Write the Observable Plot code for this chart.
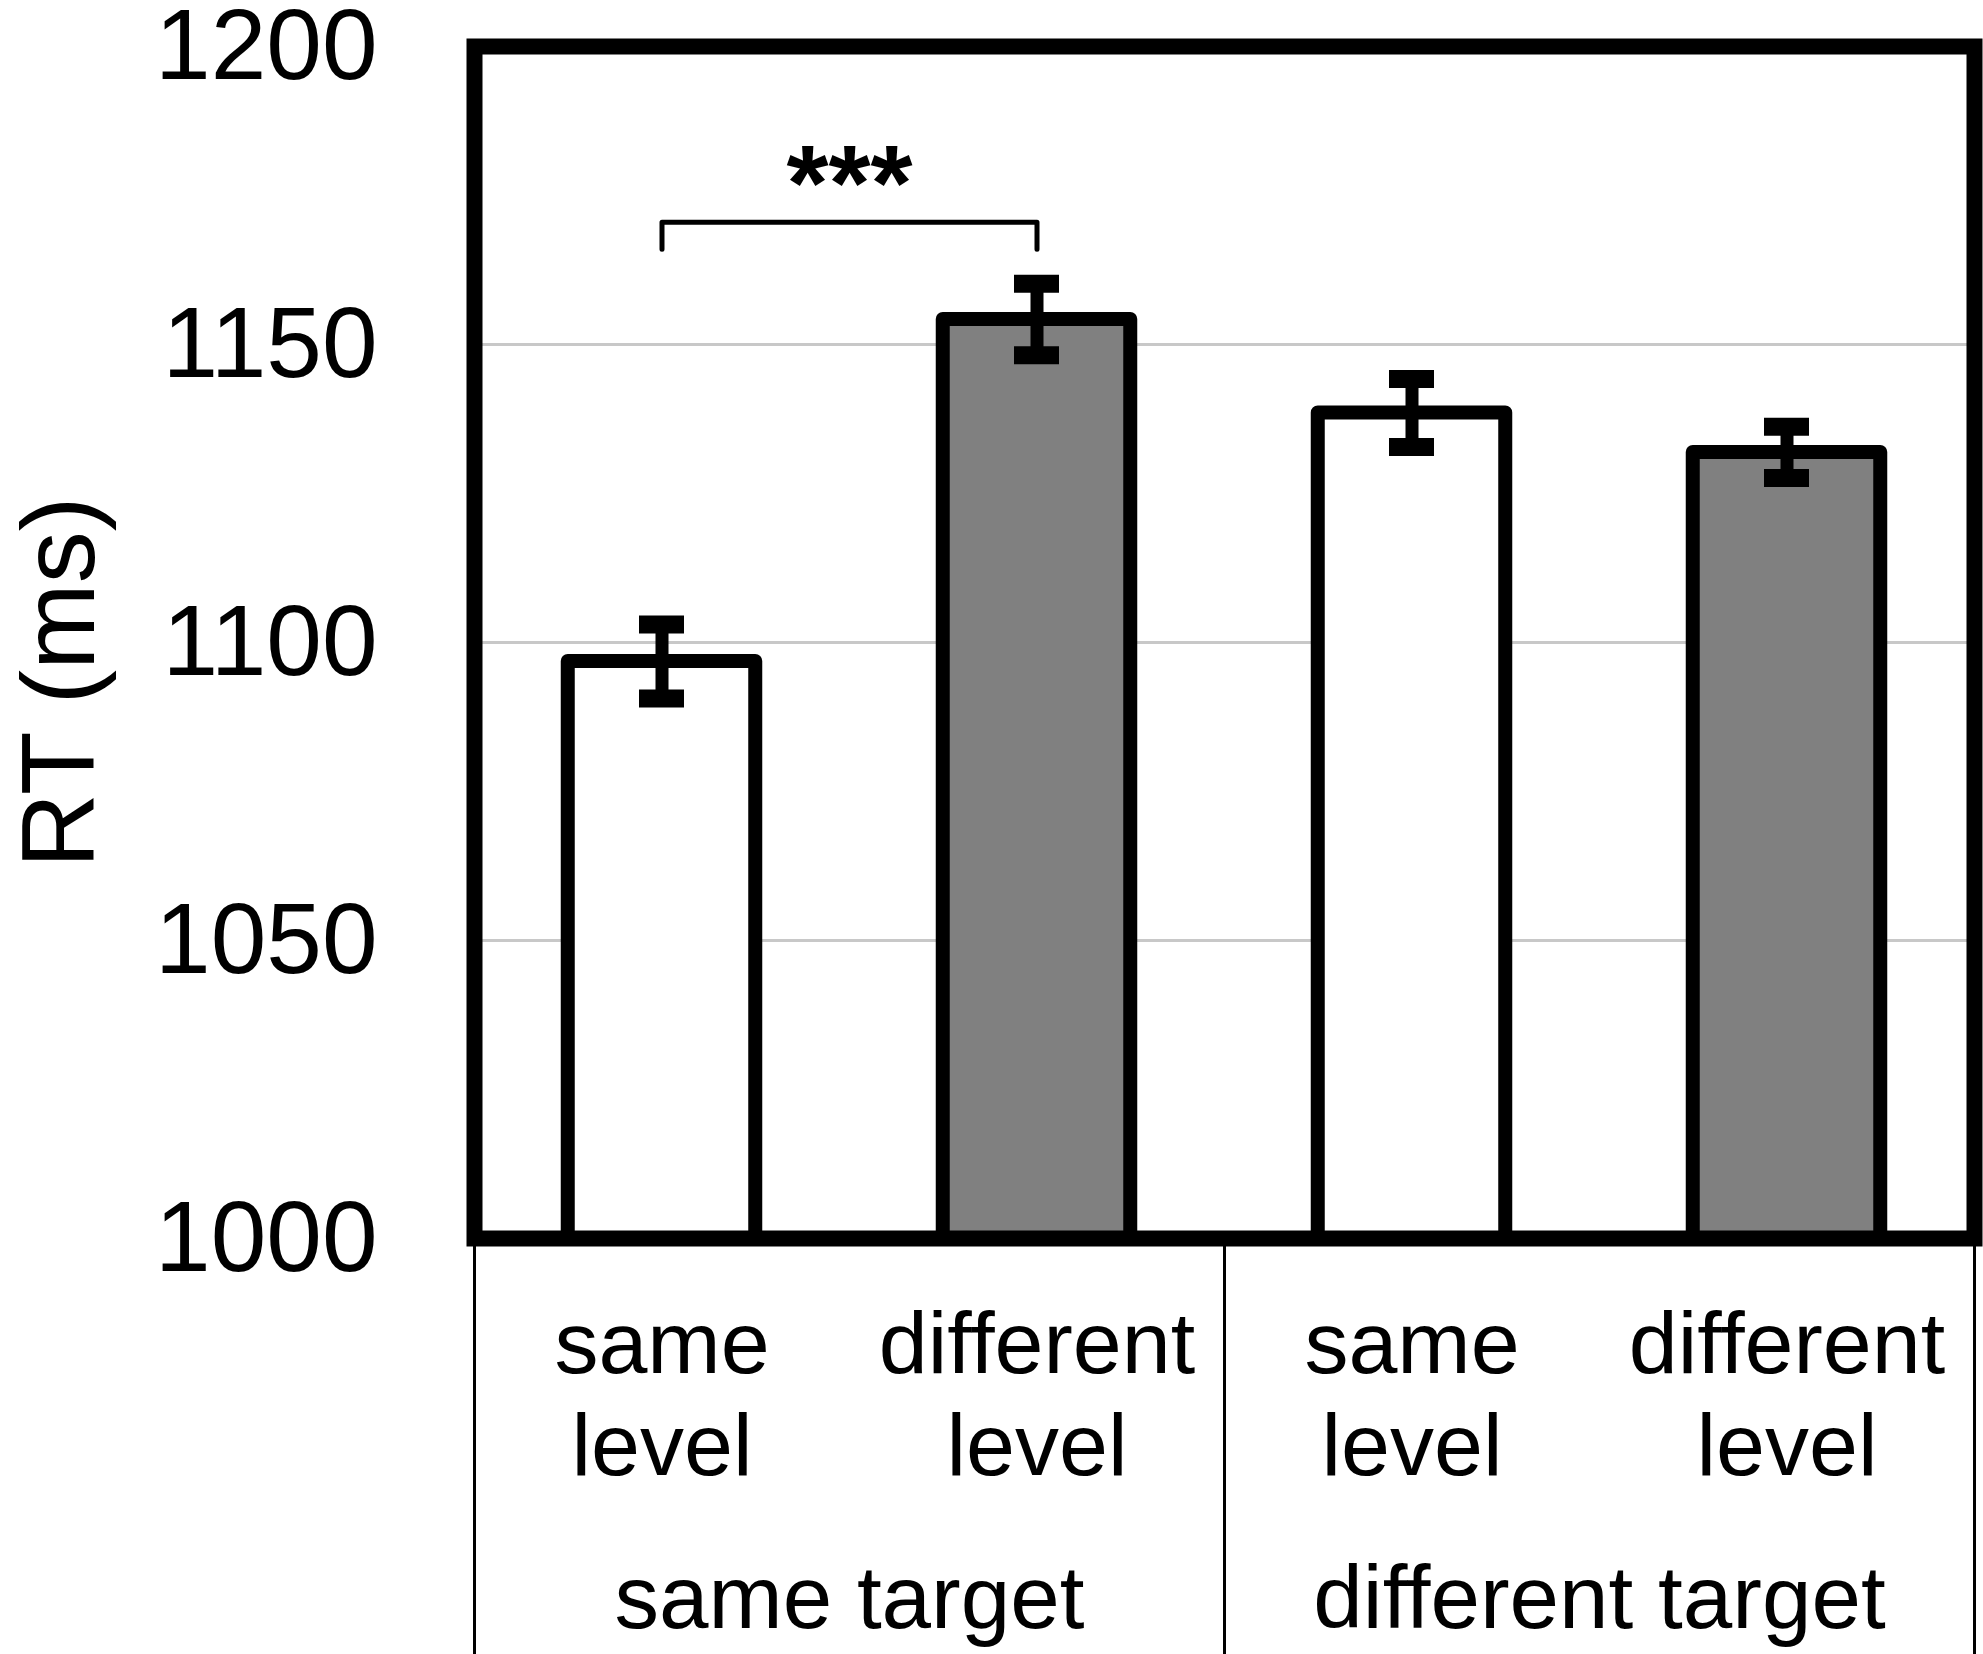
<!DOCTYPE html>
<html><head><meta charset="utf-8">
<script src="https://cdn.jsdelivr.net/npm/d3@7"></script>
<script src="https://cdn.jsdelivr.net/npm/@observablehq/plot@0.6"></script>
<style>html,body{margin:0;padding:0;background:#fff;} #chart svg{display:block}</style>
</head><body><div id="chart"></div>
<script>
// ---- data ----
const targets = ["same target", "same target", "different target", "different target"];
const levels = ["same level", "different level", "same level", "different level"];
const meanRT = [1096.8, 1154.2, 1138.5, 1131.9];
const errRT = [6.2, 6.0, 5.7, 4.3];
const yTicks = [1000, 1050, 1100, 1150, 1200];
const gridTicks = [1050, 1100, 1150];
const groupNames = ["same target", "different target"];
const yLabel = "RT (ms)";
const brackets = [{from: 0, to: 1, y: 1170.5, drop: 4.5, label: "***"}];

const rows = levels.map((level, i) => ({i, target: targets[i], level, mean: meanRT[i], err: errRT[i]}));
const levelTicks = rows.map(d => d.i);
const levelText = levels.map(s => s.replace(" ", "\n"));
const groupCenters = groupNames.map(g => d3.mean(rows.filter(d => d.target === g), d => d.i));
const dividers = [-0.5, ...groupNames.map(g => d3.max(rows.filter(d => d.target === g), d => d.i) + 0.5)];
const bracketPts = brackets.flatMap(b => [
  {x: b.from, y: b.y - b.drop}, {x: b.from, y: b.y}, {x: b.to, y: b.y}, {x: b.to, y: b.y - b.drop}
]);

const font = "'Liberation Sans', Arial, Helvetica, sans-serif";

const plot = Plot.plot({
  width: 1983,
  height: 1654,
  marginLeft: 474,
  marginRight: 9,
  marginTop: 46,
  marginBottom: 416,
  style: {fontFamily: font, background: "white", color: "black"},
  x: {type: "linear", domain: [-0.5, 3.5]},
  y: {domain: [yTicks[0], yTicks[yTicks.length - 1]]},
  color: {domain: ["same level", "different level"], range: ["#ffffff", "#808080"]},
  marks: [
    Plot.gridY({ticks: gridTicks, stroke: "#c8c8c8", strokeOpacity: 1, strokeWidth: 3}),
    Plot.rect(rows, {
      x1: d => d.i - 0.25, x2: d => d.i + 0.25,
      y1: yTicks[0], y2: "mean",
      fill: "level", stroke: "black", strokeWidth: 14, strokeLinejoin: "round"
    }),
    Plot.ruleX(rows, {x: "i", y1: d => d.mean - d.err, y2: d => d.mean + d.err, stroke: "black", strokeWidth: 13}),
    Plot.ruleY(rows, {y: d => d.mean + d.err, x1: d => d.i - 0.06, x2: d => d.i + 0.06, stroke: "black", strokeWidth: 18}),
    Plot.ruleY(rows, {y: d => d.mean - d.err, x1: d => d.i - 0.06, x2: d => d.i + 0.06, stroke: "black", strokeWidth: 18}),
    Plot.line(bracketPts, {x: "x", y: "y", stroke: "black", strokeWidth: 5, strokeLinejoin: "round", strokeLinecap: "round"}),
    Plot.text(brackets, {
      x: d => (d.from + d.to) / 2, y: "y", text: "label",
      lineAnchor: "bottom", dy: -2, fontSize: 108, fontWeight: "bold", fill: "black"
    }),
    Plot.frame({stroke: "black", strokeWidth: 16}),
    Plot.axisY({ticks: yTicks, tickFormat: d => String(d), tickSize: 0, tickPadding: 97, fontSize: 100, label: null, fill: "black"}),
    Plot.axisX({ticks: dividers, tickSize: 420, tickFormat: () => "", strokeWidth: 3, label: null}),
    Plot.axisX({ticks: levelTicks, tickFormat: v => levelText[v], tickSize: 0, tickPadding: 63,
      fontSize: 88, lineHeight: 1.15, label: null, fill: "black"}),
    Plot.axisX({ticks: groupCenters, tickFormat: v => groupNames[groupCenters.indexOf(v)], tickSize: 0,
      tickPadding: 326, fontSize: 89, label: null, fill: "black"}),
    Plot.text([yLabel], {text: d => d, frameAnchor: "left", textAnchor: "middle", lineAnchor: "middle",
      rotate: -90, dx: -414, dy: 40, fontSize: 104, fill: "black"})
  ]
});
document.getElementById("chart").appendChild(plot);
</script>
</body></html>
